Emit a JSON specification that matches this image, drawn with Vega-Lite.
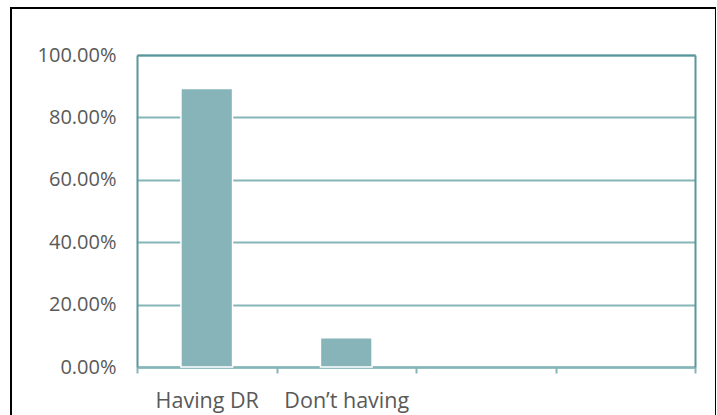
{
  "$schema": "https://vega.github.io/schema/vega-lite/v6.json",
  "autosize": "none",
  "padding": {"left": 11, "top": 8, "right": 0, "bottom": 0},
  "width": 705,
  "height": 420,
  "background": "white",
  "config": {
    "view": {"stroke": "#000000", "strokeWidth": 2},
    "font": "Open Sans",
    "axis": {"labelFont": "Open Sans", "labelColor": "#595959", "labelFontSize": 20, "title": null}
  },
  "data": {"values": [
    {"cat": "Having DR", "pct": 0.893},
    {"cat": "Don’t having", "pct": 0.094}
  ]},
  "resolve": {"axis": {"x": "independent", "y": "independent"}},
  "layer": [
    {
      "mark": {"type": "bar", "fill": "#86b4b8", "stroke": "white", "strokeWidth": 1.5, "width": {"band": 0.37}},
      "encoding": {
        "x": {
          "field": "cat", "type": "nominal", "sort": null,
          "scale": {"domain": ["Having DR", "Don’t having", "c3", "c4"], "range": [126, 684], "paddingInner": 0, "paddingOuter": 0},
          "axis": {
            "orient": "bottom", "offset": -61, "labelAngle": 0, "labelFontSize": 21.5,
            "labelExpr": "datum.value == 'c3' || datum.value == 'c4' ? '' : datum.label",
            "domainColor": "#86b6b9", "domainWidth": 2.5,
            "ticks": true, "tickBand": "extent", "tickColor": "#86b6b9", "tickWidth": 2, "tickSize": 6,
            "labelPadding": 17, "grid": false
          }
        },
        "y": {
          "field": "pct", "type": "quantitative",
          "scale": {"domain": [0, 1], "range": [359, 47], "nice": false, "zero": true},
          "axis": {
            "orient": "left", "offset": -126, "values": [0, 0.2, 0.4, 0.6, 0.8, 1],
            "format": ".2%", "ticks": false, "labelPadding": 21,
            "domainColor": "#5a969a", "domainWidth": 2,
            "grid": true, "gridColor": "#86b6b9", "gridWidth": 2
          }
        }
      }
    },
    {
      "mark": {"type": "bar", "opacity": 0},
      "encoding": {
        "x": {
          "field": "cat", "type": "nominal", "sort": null,
          "axis": {"orient": "top", "offset": -47, "labels": false, "ticks": false, "grid": false, "domainColor": "#5a969a", "domainWidth": 2}
        },
        "y": {
          "field": "pct", "type": "quantitative",
          "axis": {"orient": "right", "offset": -21, "labels": false, "ticks": false, "grid": false, "domainColor": "#5a969a", "domainWidth": 2}
        }
      }
    }
  ]
}
